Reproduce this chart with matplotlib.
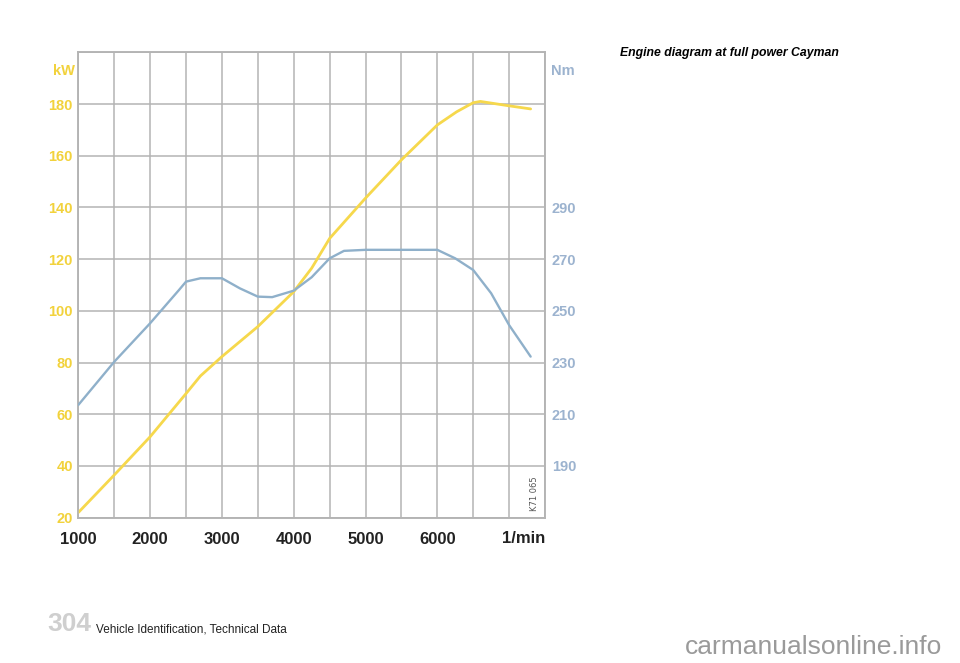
import matplotlib
matplotlib.use("Agg")
import matplotlib.pyplot as plt
import matplotlib.transforms as mtransforms

# engine speed (1/min) and power (kW)
rpm_power = [1000, 1500, 2000, 2500, 2700, 3000, 3500, 4000, 4250, 4500,
             5000, 5500, 6000, 6270, 6500, 6600, 7000, 7300]
power_kw = [22, 36.5, 51.3, 68, 74.8, 82.3, 93.9, 107.4, 116.5, 128,
            143.6, 158.4, 171.9, 177, 180.5, 181, 179.3, 178.1]

# engine speed (1/min) and torque (Nm)
rpm_torque = [1000, 1500, 2000, 2400, 2500, 2700, 3000, 3250, 3500, 3700,
              4000, 4250, 4500, 4700, 5000, 6000, 6250, 6500, 6750, 7000, 7300]
torque_nm = [213.6, 230.3, 245.2, 258, 261.3, 262.6, 262.6, 258.7, 255.5, 255.3,
             257.8, 263, 270.3, 273.2, 273.6, 273.6, 270.3, 265.8, 256.8, 244.5, 232.3]

x_ticks = [1000, 2000, 3000, 4000, 5000, 6000]
kw_ticks = [20, 40, 60, 80, 100, 120, 140, 160, 180]
nm_ticks = [190, 210, 230, 250, 270, 290]

YELLOW = '#f6d84c'
BLUE = '#8fb0ca'
YELLOW_TXT = '#f2d23c'
BLUE_TXT = '#9cb3cf'
GRID = '#b4b4b4'
FONT = ['Liberation Sans', 'DejaVu Sans']

fig = plt.figure(figsize=(9.6, 6.63), dpi=100)
ax = fig.add_axes([0.0816, 0.2192, 0.4861, 0.7019])
nm = ax.twinx()

ax.set_xlim(1000, 7500)
ax.set_ylim(20, 200)
nm.set_ylim(170, 350)

# grid every 500 rpm / 20 kW
ax.set_xticks(range(1000, 7501, 500), minor=True)
ax.set_yticks(range(20, 201, 20), minor=True)
ax.grid(True, which='both', color=GRID, lw=1.1)
ax.set_axisbelow(True)
for sp in list(ax.spines.values()) + list(nm.spines.values()):
    sp.set_color(GRID)
    sp.set_linewidth(1.1)

ax.plot(rpm_power, power_kw, color=YELLOW, lw=2.0, solid_capstyle='round', zorder=3)
nm.plot(rpm_torque, torque_nm, color=BLUE, lw=1.7, solid_capstyle='round', zorder=3)

ax.set_xticks(x_ticks)
ax.set_xticklabels([str(v) for v in x_ticks], family=FONT, fontweight='bold',
                   fontsize=12, color='#222222')
ax.set_yticks(kw_ticks)
ax.set_yticklabels([str(v) for v in kw_ticks], family=FONT, fontweight='bold',
                   fontsize=10.5, color=YELLOW_TXT)
nm.set_yticks(nm_ticks)
nm.set_yticklabels([str(v) for v in nm_ticks], family=FONT, fontweight='bold',
                   fontsize=10.5, color=BLUE_TXT)
ax.tick_params(axis='x', which='both', length=0, pad=10)
ax.tick_params(axis='y', which='both', length=0, pad=4)
nm.tick_params(axis='y', length=0, pad=5)

# axis unit labels
ax.text(-0.008, 0.96, 'kW', transform=ax.transAxes, ha='right', va='center',
        family=FONT, fontweight='bold', fontsize=10.5, color=YELLOW_TXT)
ax.text(1.012, 0.96, 'Nm', transform=ax.transAxes, ha='left', va='center',
        family=FONT, fontweight='bold', fontsize=10.5, color=BLUE_TXT)
trans = mtransforms.blended_transform_factory(ax.transData, ax.transAxes)
ax.text(7500, -0.045, '1/min', transform=trans, ha='right', va='center',
        family=FONT, fontweight='bold', fontsize=12, color='#222222')
ax.text(0.988, 0.015, 'K71 065', transform=ax.transAxes, rotation=90,
        ha='right', va='bottom', fontsize=6, color='#555555')

# page text
fig.text(620 / 960, 1 - 53 / 663, 'Engine diagram at full power Cayman',
         family=FONT, fontweight='bold', fontstyle='italic', fontsize=8.8,
         va='center', ha='left')
fig.text(47 / 960, 1 - 624 / 663, '304', fontsize=19, fontweight='bold',
         color='#cfcfcf', family=FONT, va='center', ha='left')
fig.text(96 / 960, 1 - 630 / 663, 'Vehicle Identification, Technical Data',
         family=FONT, fontsize=8.5, color='#222222', va='center', ha='left')
fig.text(942 / 960, 1 - 647 / 663, 'carmanualsonline.info', fontsize=19,
         color='#9a9a9a', family=FONT, va='center', ha='right')

fig.savefig('out.png', dpi=100)
